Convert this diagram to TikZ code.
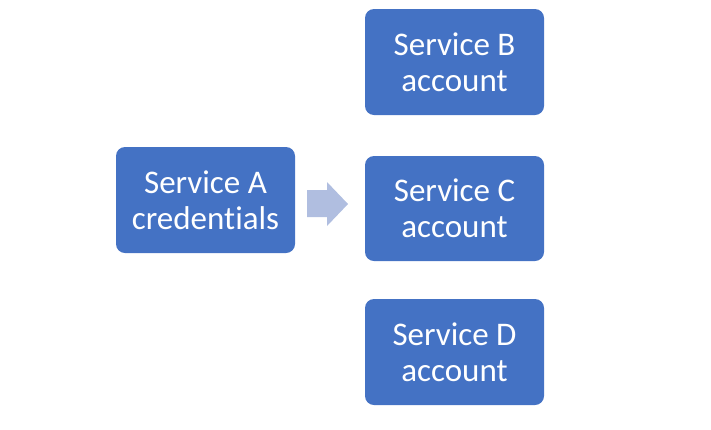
\documentclass[tikz,border=0pt]{standalone}
\usepackage{fontspec}
\setmainfont[Ligatures=NoCommon]{Carlito}
\definecolor{boxblue}{HTML}{4472C4}
\definecolor{arrowblue}{HTML}{B0BEE0}
\tikzset{
  svcbox/.style={fill=boxblue, draw=none, rounded corners=9pt, text=white,
    font=\fontsize{33}{36}\selectfont, align=center, inner sep=0pt},
}
\begin{document}
\begin{tikzpicture}[x=1pt,y=-1pt]
\useasboundingbox (0,0) rectangle (711,429);
\node[svcbox, minimum width=179pt, minimum height=106pt] (A) at (205.5,200) {Service A\\credentials};
\node[svcbox, minimum width=179pt, minimum height=106pt] (B) at (454.5,62) {Service B\\account};
\node[svcbox, minimum width=179pt, minimum height=105pt] (C) at (454.5,208.5) {Service C\\account};
\node[svcbox, minimum width=179pt, minimum height=106pt] (D) at (454.5,352) {Service D\\account};
\fill[arrowblue] (307,190) -- (327,190) -- (327,182) -- (348,204) -- (327,226) -- (327,217) -- (307,217) -- cycle;
\end{tikzpicture}
\end{document}
